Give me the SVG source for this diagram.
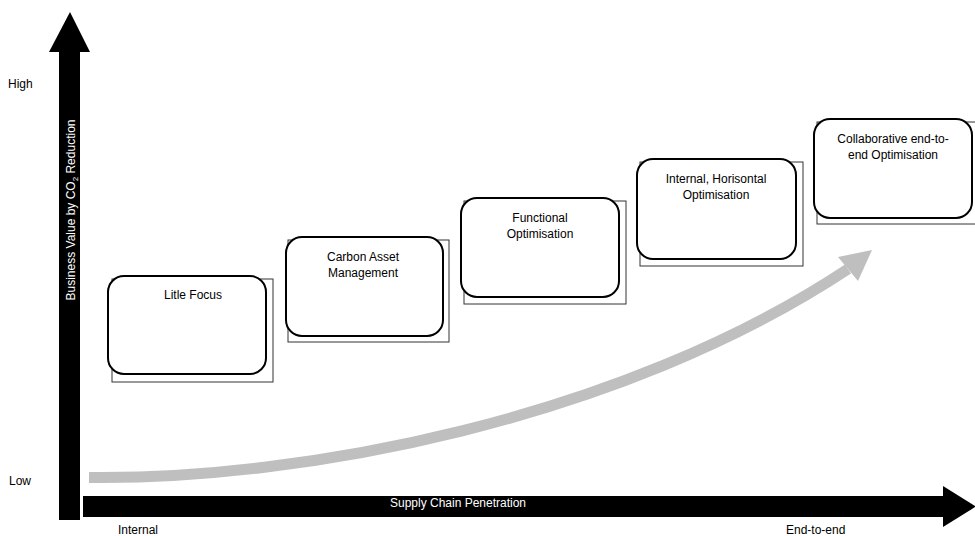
<svg xmlns="http://www.w3.org/2000/svg" width="975" height="536" viewBox="0 0 975 536">
<style>
text{font-family:"Liberation Sans",Arial,sans-serif;font-size:12px;fill:#000}
.c{text-anchor:middle}
.w{fill:#fff}
.back{fill:#fff;stroke:#333;stroke-width:1}
.box{fill:#fff;stroke:#000;stroke-width:2}
</style>
<rect width="975" height="536" fill="#fff"/>
<g id="axes">
<rect x="59" y="51" width="21" height="469" fill="#000"/>
<polygon points="49,52 70,12 90,52" fill="#000"/>
<rect x="83" y="496" width="861" height="21" fill="#000"/>
<polygon points="943,486 976,506.5 943,527" fill="#000"/>
<text class="w" transform="translate(75,210) rotate(-90)" text-anchor="middle">Business Value by CO<tspan font-size="8" dy="3">2</tspan><tspan dy="-3"> Reduction</tspan></text>
<text class="w c" x="458" y="507">Supply Chain Penetration</text>
<text x="8" y="88">High</text>
<text x="9" y="485">Low</text>
<text x="118" y="534" font-size="11">Internal</text>
<text x="786" y="534" font-size="11">End-to-end</text>
</g>
<g id="connectors">
<path d="M89,477.5 C300,480 620,420 848,269" fill="none" stroke="#bfbfbf" stroke-width="11"/>
<polygon points="872,250 838,257 858,281" fill="#bfbfbf"/>
</g>
<g id="node1">
<rect class="back" x="112" y="279" width="161" height="103"/>
<rect class="box" x="108" y="276" width="158" height="98" rx="16"/>
<text class="c" x="193" y="299">Litle Focus</text>
</g>
<g id="node2">
<rect class="back" x="288" y="240" width="161" height="102"/>
<rect class="box" x="286" y="237" width="157" height="99" rx="16"/>
<text class="c" x="363" y="261">Carbon Asset</text>
<text class="c" x="363" y="277">Management</text>
</g>
<g id="node3">
<rect class="back" x="464" y="201" width="162" height="103"/>
<rect class="box" x="461" y="198" width="158" height="99" rx="16"/>
<text class="c" x="540" y="222">Functional</text>
<text class="c" x="540" y="238">Optimisation</text>
</g>
<g id="node4">
<rect class="back" x="640" y="162" width="163" height="104"/>
<rect class="box" x="637" y="159" width="159" height="100" rx="16"/>
<text class="c" x="716" y="183">Internal, Horisontal</text>
<text class="c" x="716" y="199">Optimisation</text>
</g>
<g id="node5">
<rect class="back" x="817" y="122" width="165" height="102"/>
<rect class="box" x="814" y="119" width="158" height="99" rx="16"/>
<text class="c" x="893" y="143">Collaborative end-to-</text>
<text class="c" x="893" y="159">end Optimisation</text>
</g>
</svg>
